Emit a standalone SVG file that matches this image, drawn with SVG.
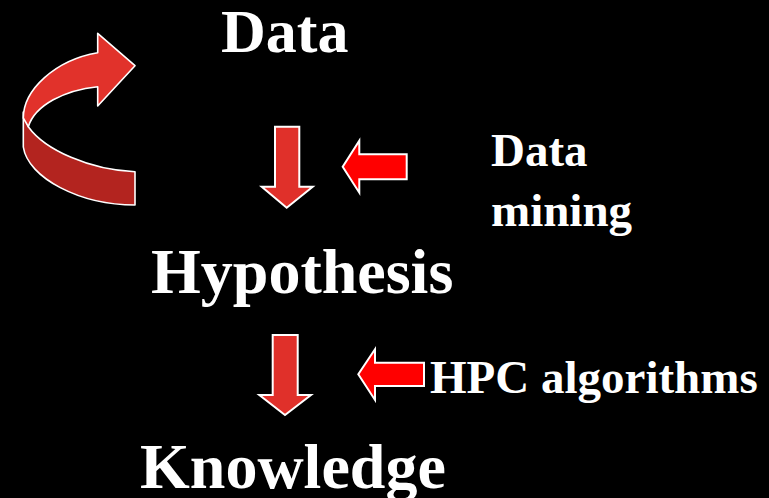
<svg xmlns="http://www.w3.org/2000/svg" width="769" height="498" viewBox="0 0 769 498">
<style>
.big{font-family:"Liberation Serif","Times New Roman",serif;font-weight:bold;font-size:64px;fill:#fff}
.mid{font-family:"Liberation Serif","Times New Roman",serif;font-weight:bold;font-size:47px;fill:#fff}
.down{fill:#E0302A;stroke:#fff;stroke-width:2;stroke-linejoin:miter}
.left{fill:#FF0000;stroke:#fff;stroke-width:2;stroke-linejoin:miter}
.rib{stroke:#fff;stroke-width:1.6;stroke-linejoin:round}
</style>
<rect width="769" height="498" fill="#000"/>
<g id="cycle-arrow">
<path class="rib" fill="#B3241F" d="M23.3,112 L23.3,147 C28,178 80,205 135,205 L135,171.7 C90,170 45,150 28.3,126.7 Z"/>
<path class="rib" fill="#E1322B" d="M97.7,52.7 L97.7,33.3 L135,65.7 L97.7,106 L97.7,86.7 C65,90 35,105 28.3,126.7 L23.3,118 C23.3,90 55,60 97.7,52.7 Z"/>
</g>
<g id="node-data"><text class="big" x="221" y="52" style="font-size:62px">Data</text></g>
<g id="node-hypothesis"><text class="big" x="151" y="293">Hypothesis</text></g>
<g id="node-knowledge"><text class="big" x="140" y="488">Knowledge</text></g>
<g id="label-data-mining"><text class="mid" x="491" y="166">Data</text><text class="mid" x="491" y="226">mining</text></g>
<g id="label-hpc"><text class="mid" x="430" y="393">HPC algorithms</text></g>
<g id="connectors">
<path class="down" d="M275,126.7 L299.3,126.7 L299.3,186.7 L312.7,186.7 L286.7,207.7 L261.7,186.7 L275,186.7 Z"/>
<path class="down" d="M272.7,335 L297.7,335 L297.7,395 L311,395 L285,415 L259.3,395 L272.7,395 Z"/>
<path class="left" d="M406.7,154.3 L406.7,179.3 L359.3,179.3 L359.3,192.7 L342.7,166.7 L359.3,140.7 L359.3,154.3 Z"/>
<path class="left" d="M424,362.7 L424,386 L375,386 L375,400 L358.3,374.3 L375,349.3 L375,362.7 Z"/>
</g>
</svg>
